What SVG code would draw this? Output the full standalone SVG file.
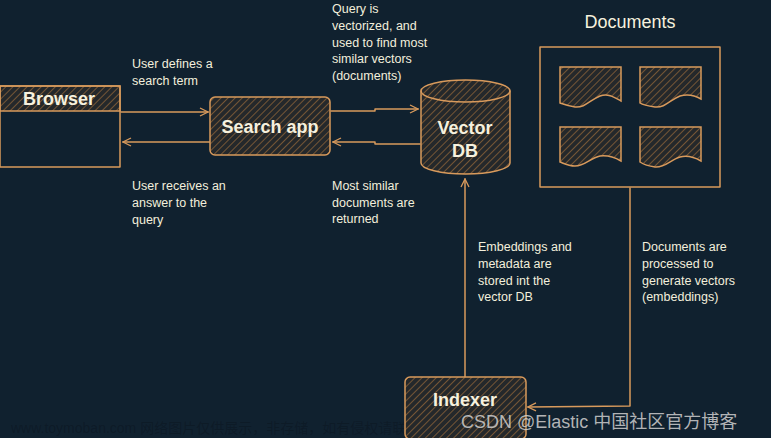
<svg xmlns="http://www.w3.org/2000/svg" width="771" height="438" viewBox="0 0 771 438">
<defs>
<pattern id="hatch" patternUnits="userSpaceOnUse" width="5" height="5" patternTransform="rotate(45)">
<rect width="5" height="5" fill="#24282b"/>
<line x1="0" y1="0" x2="0" y2="5" stroke="#8a6238" stroke-width="1.6"/>
</pattern>
<marker id="arr" viewBox="0 0 10 10" refX="9" refY="5" markerWidth="10" markerHeight="10" markerUnits="userSpaceOnUse" orient="auto">
<path d="M1,1 L9,5 L1,9" fill="none" stroke="#d89a5c" stroke-width="1.3"/>
</marker>
</defs>
<style>
.s{stroke:#d89a5c;stroke-width:1.5;fill:none;stroke-linejoin:round;stroke-linecap:round}
.h{fill:url(#hatch);stroke:#d89a5c;stroke-width:1.5}
.lbl{font-family:"Liberation Sans",Arial,sans-serif;font-size:12.5px;fill:#f3efdc}
.node{font-family:"Liberation Sans",Arial,sans-serif;font-size:18px;font-weight:bold;fill:#f6f1de;text-anchor:middle}
.title{font-family:"Liberation Sans",Arial,sans-serif;font-size:18px;fill:#f6f1de;text-anchor:middle}
.wm{font-family:"Liberation Sans","Noto Sans CJK SC",sans-serif}
</style>
<rect width="771" height="438" fill="#10212f"/>
<text class="wm" x="11" y="433" font-size="14" fill="#000" fill-opacity="0.18">www.toymoban.com 网络图片仅供展示，非存储，如有侵权请联系</text>

<g id="connectors">
<path class="s" d="M121,112 L208,112" marker-end="url(#arr)"/>
<path class="s" d="M210,142 L123,142" marker-end="url(#arr)"/>
<path class="s" d="M331,111 L375,111 L375,109 L418,109" marker-end="url(#arr)"/>
<path class="s" d="M420,144 L375,144 L375,142 L333,142" marker-end="url(#arr)"/>
<path class="s" d="M465,377 L465,179" marker-end="url(#arr)"/>
<path class="s" d="M630,188 L630,406 L528,407" marker-end="url(#arr)"/>
</g>

<g id="browser">
<rect x="0" y="86" width="120" height="25" class="h"/>
<rect x="0" y="86" width="120" height="81" class="s"/>
<text class="node" x="59" y="105">Browser</text>
</g>

<g id="search-app">
<rect x="210" y="97" width="120" height="58" rx="5" class="h"/>
<text class="node" x="270" y="133">Search app</text>
</g>

<g id="vector-db">
<path class="h" d="M421,91 A44.5,11 0 0 1 510,91 L510,163 A44.5,11 0 0 1 421,163 Z"/>
<path class="s" d="M421,91 A44.5,11 0 0 0 510,91"/>
<text class="node" x="465" y="134">Vector</text>
<text class="node" x="465" y="157">DB</text>
</g>

<g id="documents">
<text class="title" x="630" y="28">Documents</text>
<rect x="540" y="47" width="180" height="140" class="s"/>
<path class="h" d="M560,67 H621 V101 C614,97 608,93 600,96 C590,100 585,108 575,107 C568,106 563,104 560,103 Z"/>
<path class="h" d="M640,67 H701 V99 C694,95 688,94 680,96 C670,100 665,108 655,107 C648,106 643,105 640,103 Z"/>
<path class="h" d="M560,127 H621 V161 C614,157 608,155 600,156 C590,158 585,166 575,166 C568,166 563,163 560,162 Z"/>
<path class="h" d="M640,127 H701 V161 C694,157 688,155 680,157 C670,160 665,168 655,167 C648,166 643,164 640,162 Z"/>
</g>

<g id="indexer">
<rect x="405" y="377" width="121" height="62" rx="5" class="h"/>
<text class="node" x="465" y="406">Indexer</text>
</g>

<g id="labels">
<text class="lbl" x="132" y="68">User defines a</text>
<text class="lbl" x="132" y="85">search term</text>
<text class="lbl" x="132" y="190">User receives an</text>
<text class="lbl" x="132" y="207">answer to the</text>
<text class="lbl" x="132" y="224">query</text>
<text class="lbl" x="332" y="13">Query is</text>
<text class="lbl" x="332" y="30">vectorized, and</text>
<text class="lbl" x="332" y="47">used to find most</text>
<text class="lbl" x="332" y="63">similar vectors</text>
<text class="lbl" x="332" y="80">(documents)</text>
<text class="lbl" x="332" y="190">Most similar</text>
<text class="lbl" x="332" y="207">documents are</text>
<text class="lbl" x="332" y="223">returned</text>
<text class="lbl" x="478" y="251">Embeddings and</text>
<text class="lbl" x="478" y="268">metadata are</text>
<text class="lbl" x="478" y="285">stored int the</text>
<text class="lbl" x="478" y="301">vector DB</text>
<text class="lbl" x="642" y="251">Documents are</text>
<text class="lbl" x="642" y="268">processed to</text>
<text class="lbl" x="642" y="285">generate vectors</text>
<text class="lbl" x="642" y="301">(embeddings)</text>
</g>

<text class="wm" x="461" y="428" font-size="18" fill="#d0d0d0" fill-opacity="0.85">CSDN @Elastic 中国社区官方博客</text>
</svg>
